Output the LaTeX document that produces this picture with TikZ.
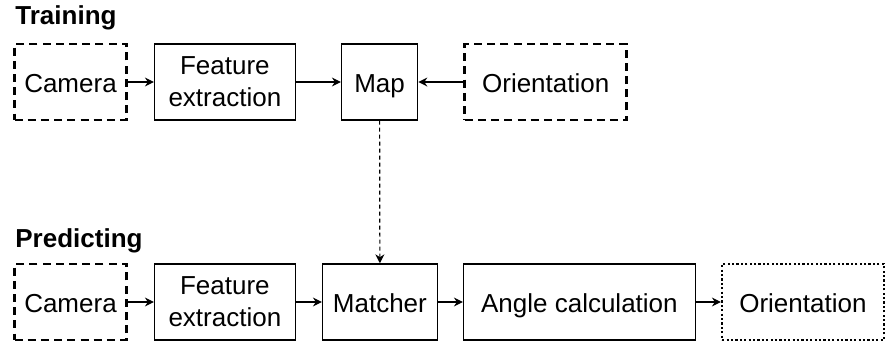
\documentclass[tikz,border=0pt]{standalone}
\usepackage{fontspec}
\setmainfont{Liberation Sans}
\usetikzlibrary{positioning,arrows.meta}

\begin{document}
\begin{tikzpicture}[
  x=0.5pt, y=-0.5pt,
  node distance=13pt,
  every node/.style={font=\fontsize{13}{16}\selectfont},
  block/.style={draw, line width=0.7pt, minimum height=38pt, align=center, inner sep=2pt,
                text height=11pt, text depth=1pt},
  twoline/.style={text height=, text depth=},
  source/.style={block, line width=1.4pt, dash pattern=on 4pt off 2.6pt},
  result/.style={block, line width=1.2pt, dash pattern=on 1.1pt off 1.1pt},
  phase/.style={font=\bfseries\fontsize{13}{16}\selectfont, anchor=base west, inner sep=0pt},
  flow/.style={-{Stealth[length=4.5pt,width=4.5pt]}, line width=0.6pt}
]
  \useasboundingbox (0,0) rectangle (886,343);

  % training
  \node[phase] (train) at (15,24) {Training};
  \node[source, minimum width=56pt] (cam1) at (70.5,82) {Camera};
  \node[block, twoline, minimum width=70.3pt, right=of cam1] (feat1) {Feature\\extraction};
  \node[block, minimum width=38pt, right=22.5pt of feat1] (map) {Map};
  \node[source, minimum width=81pt, right=22.5pt of map] (orient1) {Orientation};

  \draw[flow] (cam1) -- (feat1);
  \draw[flow] (feat1) -- (map);
  \draw[flow] (orient1) -- (map);

  % predicting
  \node[phase] (pred) at (15,247) {Predicting};
  \node[source, minimum width=56pt] (cam2) at (70.5,302) {Camera};
  \node[block, twoline, minimum width=70.3pt, right=of cam2] (feat2) {Feature\\extraction};
  \node[block, minimum width=57.3pt, right=of feat2] (match) {Matcher};
  \node[block, minimum width=115.8pt, right=12.5pt of match] (angle) {Angle calculation};
  \node[result, minimum width=80.8pt, right=12.5pt of angle] (orient2) {Orientation};

  \draw[flow] (cam2) -- (feat2);
  \draw[flow] (feat2) -- (match);
  \draw[flow] (match) -- (angle);
  \draw[flow] (angle) -- (orient2);

  \draw[flow, dash pattern=on 2pt off 1.5pt] (map.south) -- (match.north);
\end{tikzpicture}
\end{document}
